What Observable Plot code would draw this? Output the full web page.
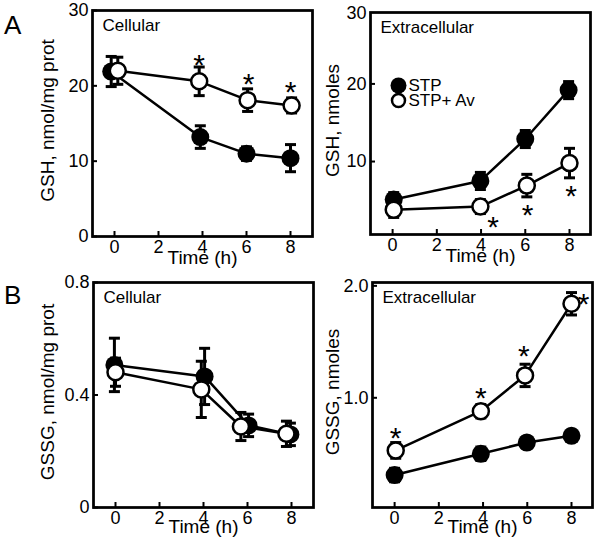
<!DOCTYPE html>
<html>
<head>
<meta charset="utf-8">
<script src="https://cdn.jsdelivr.net/npm/d3@7"></script>
<script src="https://cdn.jsdelivr.net/npm/@observablehq/plot@0.6"></script>
<style>
  body { margin: 0; background: #fff; }
  #wrap { position: relative; width: 600px; height: 550px; font-family: "Liberation Sans", Arial, sans-serif; color: #000; }
  .p { position: absolute; }
  .letter { position: absolute; font-size: 26px; line-height: 1; }
</style>
</head>
<body>
<div id="wrap"></div>
<script>
// ---------- data ----------
const xTicks = [0, 2, 4, 6, 8];
const legendLabels = ["STP", "STP+ Av"];

// Panel A, cellular GSH (nmol/mg prot)
const aCellStpTime = [-0.15, 3.9, 6.0, 8.0];
const aCellStp     = [21.9, 13.2, 11.0, 10.4];
const aCellStpErr  = [2.0, 1.5, 0.9, 1.8];
const aCellAvTime  = [0.15, 3.85, 6.05, 8.05];
const aCellAv      = [22.0, 20.6, 18.1, 17.4];
const aCellAvErr   = [1.8, 1.9, 1.5, 1.0];
const aCellStarTime = [3.85, 6.1, 8.0];
const aCellStarY    = [23.8, 21.2, 20.2];

// Panel A, extracellular GSH (nmoles)
const aExtStpTime = [0.05, 3.97, 6.0, 7.96];
const aExtStp     = [5.1, 7.5, 12.9, 19.2];
const aExtStpErr  = [0.9, 1.1, 1.1, 1.1];
const aExtAvTime  = [0.05, 3.97, 6.07, 8.0];
const aExtAv      = [3.8, 4.2, 6.9, 9.8];
const aExtAvErr   = [1.0, 0.9, 1.45, 1.9];
const aExtStarTime = [4.55, 6.1, 8.07];
const aExtStarY    = [2.6, 4.1, 6.6];

// Panel B, cellular GSSG (nmol/mg prot)
const bCellStpTime = [-0.05, 4.05, 6.05, 7.95];
const bCellStp     = [0.507, 0.466, 0.292, 0.26];
const bCellStpErr  = [0.095, 0.1, 0.04, 0.04];
const bCellAvTime  = [0.0, 3.9, 5.7, 7.77];
const bCellAv      = [0.481, 0.42, 0.288, 0.262];
const bCellAvErr   = [0.05, 0.1, 0.05, 0.045];
const bCellStarTime = [];
const bCellStarY    = [];

// Panel B, extracellular GSSG (nmoles)
const bExtStpTime = [0.0, 3.9, 5.98, 8.0];
const bExtStp     = [0.31, 0.50, 0.60, 0.66];
const bExtStpErr  = [0.06, 0.06, 0.05, 0.05];
const bExtAvTime  = [0.05, 3.9, 5.9, 8.0];
const bExtAv      = [0.53, 0.88, 1.2, 1.84];
const bExtAvErr   = [0.07, 0.06, 0.1, 0.1];
const bExtStarTime = [0.05, 3.9, 5.85, 8.55];
const bExtStarY    = [0.71, 1.07, 1.44, 1.91];

// ---------- drawing ----------
const cap = {draw(ctx) { ctx.moveTo(-5.5, 0); ctx.lineTo(5.5, 0); }};
const rows = (t, v, e) => t.map((x, i) => ({t: x, v: v[i], lo: v[i] - e[i], hi: v[i] + e[i]}));
const starRows = (t, y) => t.map((x, i) => ({t: x, v: y[i]}));

function panel(o) {
  const stp = rows(o.stpT, o.stp, o.stpE);
  const av = rows(o.avT, o.av, o.avE);
  const stars = starRows(o.starT, o.starY);
  const marks = [
    Plot.axisX({ticks: xTicks, tickSize: -5, tickPadding: 9, strokeWidth: 2, label: null}),
    Plot.axisY({ticks: o.yTicks, tickSize: -5, tickPadding: 9, strokeWidth: 2, label: null, tickFormat: o.yFormat}),
    Plot.line(stp, {x: "t", y: "v", stroke: "black", strokeWidth: 2.5}),
    Plot.line(av, {x: "t", y: "v", stroke: "black", strokeWidth: 2.5}),
  ];
  for (const s of [stp, av]) {
    marks.push(
      Plot.ruleX(s, {x: "t", y1: "lo", y2: "hi", stroke: "black", strokeWidth: 3}),
      Plot.dot(s, {x: "t", y: "lo", symbol: cap, fill: "none", stroke: "black", strokeWidth: 3}),
      Plot.dot(s, {x: "t", y: "hi", symbol: cap, fill: "none", stroke: "black", strokeWidth: 3})
    );
  }
  marks.push(
    Plot.dot(stp, {x: "t", y: "v", r: 9, fill: "black", stroke: "none"}),
    Plot.dot(av, {x: "t", y: "v", r: 8, fill: "white", stroke: "black", strokeWidth: 2.5}),
    Plot.text(stars, {x: "t", y: "v", text: () => "*", fontSize: 30, dy: 8}),
    Plot.text([o.title], {frameAnchor: "top-left", dx: 10, dy: 8, textAnchor: "start", lineAnchor: "top", fontSize: 17}),
    Plot.text([o.ylabel], {frameAnchor: "left", rotate: -90, textAnchor: "middle", lineAnchor: "middle", dx: o.ylabelDx, dy: -3, fontSize: 19}),
    Plot.text(["Time (h)"], {frameAnchor: "bottom", textAnchor: "middle", lineAnchor: "middle", dy: o.xlabelDy, fontSize: 19}),
    Plot.frame({stroke: "black", strokeWidth: 2.75})
  );
  if (o.extraTop) {
    marks.push(Plot.text([o.extraTop], {frameAnchor: "top-left", dx: -4, dy: 1, textAnchor: "end", lineAnchor: "middle"}));
  }
  if (o.legend) {
    marks.push(
      Plot.dot([legendLabels[0]], {frameAnchor: "top-left", dx: 28, dy: 73, r: 8, fill: "black"}),
      Plot.dot([legendLabels[1]], {frameAnchor: "top-left", dx: 28, dy: 88, r: 6.5, fill: "white", stroke: "black", strokeWidth: 2.5}),
      Plot.text([legendLabels[0]], {frameAnchor: "top-left", dx: 38, dy: 73, textAnchor: "start", lineAnchor: "middle", fontSize: 17}),
      Plot.text([legendLabels[1]], {frameAnchor: "top-left", dx: 38, dy: 88, textAnchor: "start", lineAnchor: "middle", fontSize: 17})
    );
  }
  const chart = Plot.plot({
    width: o.width, height: o.height,
    marginLeft: o.m[0], marginRight: o.m[1], marginTop: o.m[2], marginBottom: o.m[3],
    x: {domain: o.xDomain},
    y: {domain: o.yDomain},
    style: {fontFamily: "'Liberation Sans', Arial, sans-serif", fontSize: "18px", background: "transparent", color: "black", overflow: "visible"},
    marks
  });
  chart.classList.add("p");
  chart.style.left = o.left + "px";
  chart.style.top = o.top + "px";
  return chart;
}

const wrap = document.getElementById("wrap");

wrap.appendChild(panel({
  left: 0, top: 0, width: 320, height: 272, m: [92, 8, 10, 36],
  xDomain: [-1, 9], yDomain: [0, 30], yTicks: [0, 10, 20, 30], yFormat: d3.format("d"),
  stpT: aCellStpTime, stp: aCellStp, stpE: aCellStpErr,
  avT: aCellAvTime, av: aCellAv, avE: aCellAvErr,
  starT: aCellStarTime, starY: aCellStarY,
  title: "Cellular", ylabel: "GSH, nmol/mg prot", ylabelDx: -45, xlabelDy: 21
}));

wrap.appendChild(panel({
  left: 320, top: 0, width: 280, height: 272, m: [50, 10, 12, 38],
  xDomain: [-1, 8.95], yDomain: [0.6, 29.2], yTicks: [10, 20], yFormat: d3.format("d"),
  extraTop: "30",
  stpT: aExtStpTime, stp: aExtStp, stpE: aExtStpErr,
  avT: aExtAvTime, av: aExtAv, avE: aExtAvErr,
  starT: aExtStarTime, starY: aExtStarY,
  title: "Extracellular", ylabel: "GSH, nmoles", ylabelDx: -38, xlabelDy: 21,
  legend: true
}));

wrap.appendChild(panel({
  left: 0, top: 272, width: 320, height: 278, m: [93, 7, 10, 43],
  xDomain: [-1, 9], yDomain: [0, 0.8], yTicks: [0, 0.4, 0.8], yFormat: d => d === 0 ? "0" : d3.format(".1f")(d),
  stpT: bCellStpTime, stp: bCellStp, stpE: bCellStpErr,
  avT: bCellAvTime, av: bCellAv, avE: bCellAvErr,
  starT: bCellStarTime, starY: bCellStarY,
  title: "Cellular", ylabel: "GSSG, nmol/mg prot", ylabelDx: -46, xlabelDy: 19
}));

wrap.appendChild(panel({
  left: 320, top: 272, width: 280, height: 278, m: [52, 8, 10, 43],
  xDomain: [-1, 8.95], yDomain: [0.02, 2.03], yTicks: [1, 2], yFormat: d3.format(".1f"),
  stpT: bExtStpTime, stp: bExtStp, stpE: bExtStpErr,
  avT: bExtAvTime, av: bExtAv, avE: bExtAvErr,
  starT: bExtStarTime, starY: bExtStarY,
  title: "Extracellular", ylabel: "GSSG, nmoles", ylabelDx: -40, xlabelDy: 19
}));

for (const [txt, top] of [["A", 12], ["B", 282]]) {
  const d = document.createElement("div");
  d.className = "letter";
  d.textContent = txt;
  d.style.left = "4px";
  d.style.top = top + "px";
  wrap.appendChild(d);
}
</script>
</body>
</html>
